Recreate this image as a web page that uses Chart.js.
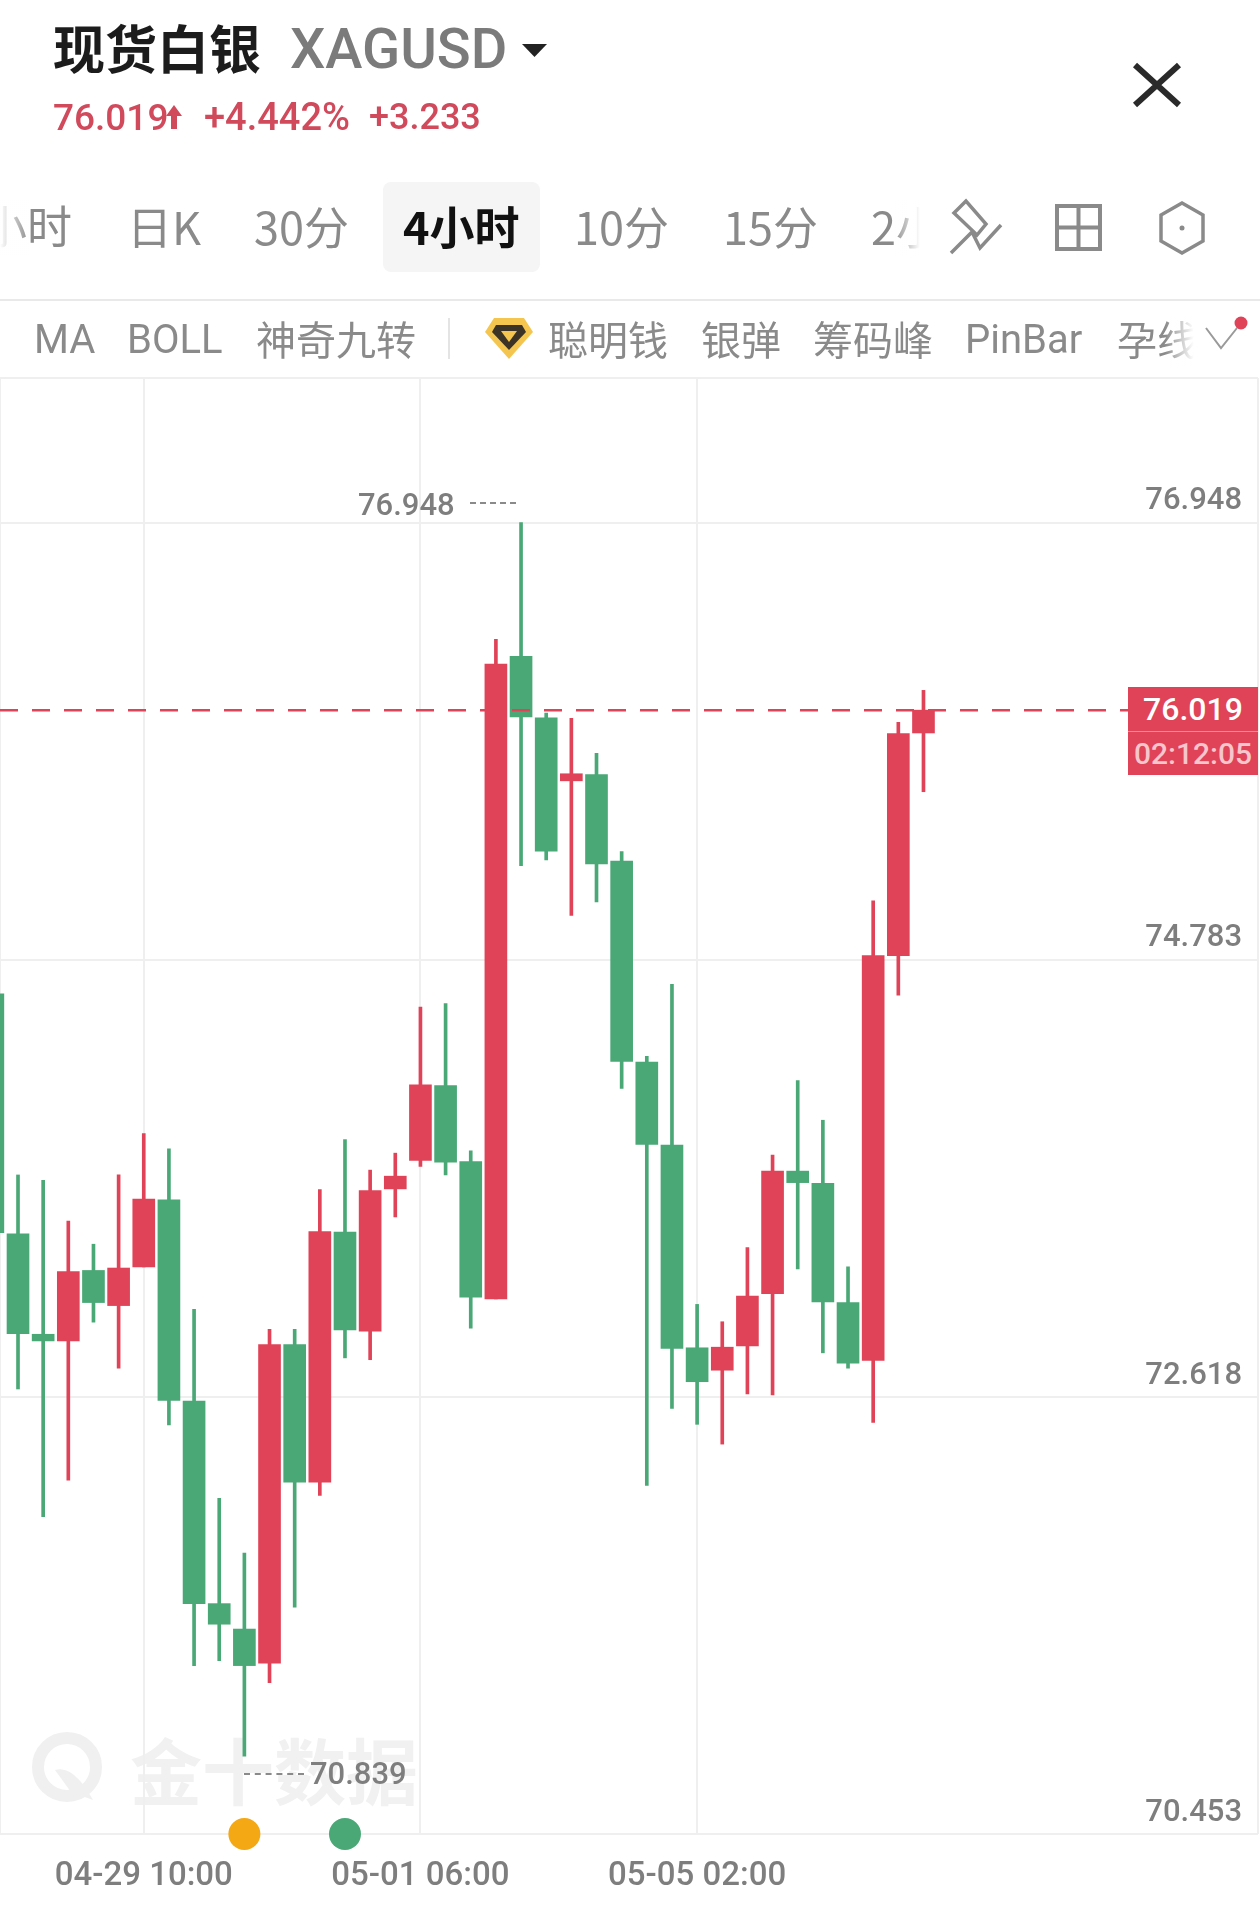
<!DOCTYPE html>
<html lang="zh"><head><meta charset="utf-8">
<script src="https://cdn.jsdelivr.net/npm/chart.js@4"></script>
<style>
html,body{margin:0;padding:0;background:#fff;width:1260px;height:1905px;overflow:hidden}
#wrap{position:relative;width:1260px;height:1905px;overflow:hidden;font-family:Roboto,"Noto Sans CJK SC",sans-serif}
canvas{position:absolute;left:0;top:0}
.t{position:absolute;white-space:nowrap;line-height:1;transform:translateY(-50%)}
.cn{font-family:"Noto Sans CJK SC",sans-serif}
.tab{font-size:45px;color:#8a8a8a;font-weight:400;top:225px}
.ind{font-size:40px;color:#8a8a8a;font-weight:400;top:338px}
.lat{top:340px}
.red{color:#d04a5c;font-weight:500;font-size:38px;top:117px}
.gray{color:#7e7e7e;font-weight:500;font-size:31px}
svg{position:absolute;overflow:visible}
</style></head><body><div id="wrap">
<div class="t cn" style="top:1768px;font-size:72px;font-weight:700;color:#f1f1f1;left:130px">金十数据</div>
<svg style="left:30px;top:1730px" width="76" height="76"><circle cx="37" cy="37" r="29" fill="none" stroke="#f0f0f0" stroke-width="12"/><path d="M25 40q18-6 38 30l-22-8z" fill="#f0f0f0"/></svg>
<canvas id="c" width="1260" height="1905" style="width:1260px;height:1905px"></canvas>

<div class="t cn" style="left:53px;top:47px;font-size:52px;font-weight:700;color:#1c1c1c">现货白银</div>
<div class="t" style="left:290px;top:49px;font-size:56px;font-weight:500;color:#7b7b7b">XAGUSD</div>
<svg style="left:522px;top:44px" width="26" height="14"><path d="M0 0H25L12.500 13z" fill="#222"/></svg>
<div class="t red" style="left:53px;font-size:37px">76.019</div>
<svg style="left:166px;top:105px" width="18" height="24"><path d="M8 0L16 11H11V24H5V11H0z" fill="#d04a5c"/></svg>
<div class="t red" style="left:204px">+4.442%</div>
<div class="t red" style="left:369px;font-size:36px">+3.233</div>
<svg style="left:1133px;top:63px" width="44" height="44"><path d="M2 2L46 42M46 2L2 42" stroke="#2a2a2a" stroke-width="6" fill="none"/></svg>

<div style="position:absolute;left:383px;top:182px;width:157px;height:90px;background:#f5f5f5;border-radius:8px"></div>
<div class="t tab cn" style="left:-20px;width:92px;overflow:hidden;height:46px;direction:rtl">小时</div>
<div style="position:absolute;left:0;top:200px;width:30px;height:55px;background:linear-gradient(90deg,#fff,rgba(255,255,255,0))"></div>
<div class="t tab cn" style="left:127px">日K</div>
<div class="t tab cn" style="left:254px">30分</div>
<div class="t tab cn" style="left:403px;color:#111;font-weight:700">4小时</div>
<div class="t tab cn" style="left:574px">10分</div>
<div class="t tab cn" style="left:723px">15分</div>
<div class="t tab cn" style="left:871px">2小</div>
<div style="position:absolute;left:893px;top:198px;width:60px;height:60px;background:linear-gradient(90deg,rgba(255,255,255,0),#fff 45%)"></div>
<svg style="left:947px;top:198px" width="58" height="58" fill="none" stroke="#8a8a8a" stroke-width="3.500"><path d="M19 3L7 15L30 37L39 26zM4 55L25 34L33 50L54 27"/></svg>
<svg style="left:1055px;top:204px" width="47" height="47" fill="none" stroke="#8a8a8a" stroke-width="4"><path d="M2 2H45V45H2zM23.500 2V45M2 23.500H45"/></svg>
<svg style="left:1158px;top:201px" width="48" height="54" fill="none" stroke="#8a8a8a" stroke-width="3.500"><path d="M24 2L45 14V40L24 52L3 40V14z"/><circle cx="24" cy="27" r="2.500" fill="#8a8a8a" stroke="none"/></svg>

<div style="position:absolute;left:0;top:299px;width:1260px;height:2px;background:#e9e9e9"></div>
<div class="t ind lat" style="left:34px">MA</div>
<div class="t ind lat" style="left:127px">BOLL</div>
<div class="t ind cn" style="left:256px">神奇九转</div>
<div style="position:absolute;left:448px;top:318px;width:2px;height:41px;background:#e4e4e4"></div>
<svg style="left:484px;top:316px" width="50" height="44"><path d="M10 2H40L49 16L25 43L1 16z" fill="#f4c64f"/><path d="M12 9H38L42 16L25 34L8 16z" fill="#3a3326"/><path d="M17 15H33L25 26z" fill="#f4c64f"/></svg>
<div class="t ind cn" style="left:548px">聪明钱</div>
<div class="t ind cn" style="left:701px">银弹</div>
<div class="t ind cn" style="left:813px">筹码峰</div>
<div class="t ind lat" style="left:965px">PinBar</div>
<div class="t ind cn" style="left:1117px">孕线</div>
<div style="position:absolute;left:1165px;top:316px;width:36px;height:50px;background:linear-gradient(90deg,rgba(255,255,255,0),#fff 80%)"></div>
<svg style="left:1205px;top:325px" width="34" height="26"><path d="M1 3L16 23L32 3" stroke="#9a9a9a" stroke-width="2" fill="none"/></svg>
<svg style="left:1234px;top:316px" width="14" height="14"><circle cx="7" cy="7" r="6.500" fill="#e04358"/></svg>

<div class="t gray" style="left:358px;top:504px">76.948</div>
<div style="position:absolute;left:470px;top:502px;width:46px;height:0;border-top:2px dashed #8a8a8a"></div>
<div style="position:absolute;left:244px;top:1773px;width:60px;height:0;border-top:2px dashed #8a8a8a"></div>
<div class="t gray" style="left:310px;top:1773px">70.839</div>

<div style="position:absolute;left:1128px;top:687px;width:130px;height:44px;background:#e04358"></div>
<div style="position:absolute;left:1128px;top:731px;width:130px;height:44px;background:#e04358;border-top:1px solid #f08a97;box-sizing:border-box"></div>
<div class="t" style="left:1128px;width:130px;text-align:center;top:709px;font-size:32px;font-weight:500;color:#fff">76.019</div>
<div class="t" style="left:1128px;width:130px;text-align:center;top:754px;font-size:30px;font-weight:500;color:#f7c6cc">02:12:05</div>
</div>
<script>
const opens  = [74.614,73.425,72.928,72.895,73.244,73.070,73.262,73.594,72.597,71.594,71.468,71.299,72.877,72.196,73.434,72.943,73.648,73.789,74.160,73.783,73.103,76.285,75.981,75.669,75.700,75.271,74.276,73.865,72.861,72.750,72.870,73.129,73.736,73.676,73.085,72.798,74.803,75.906];
const closes = [73.431,72.931,72.895,73.238,73.085,73.256,73.597,72.600,71.594,71.492,71.287,72.877,72.196,73.437,72.949,73.639,73.711,74.163,73.780,73.112,76.247,75.985,75.321,75.704,75.258,74.279,73.868,72.858,72.693,72.864,73.117,73.736,73.679,73.088,72.785,74.803,75.903,76.019];
const highs  = [74.614,73.717,73.690,73.488,73.374,73.717,73.922,73.846,73.052,72.115,71.844,72.952,72.952,73.645,73.892,73.741,73.825,74.548,74.566,73.837,76.370,76.948,76.004,75.978,75.805,75.318,74.304,74.661,73.076,72.990,73.357,73.815,74.184,73.988,73.262,75.075,75.959,76.117];
const lows   = [73.431,72.657,72.025,72.206,72.988,72.760,73.262,72.479,71.287,71.311,70.839,71.203,71.576,72.130,72.811,72.802,73.509,73.759,73.717,72.958,73.103,75.249,75.277,75.002,75.069,74.146,72.179,72.561,72.482,72.384,72.633,72.627,73.252,72.836,72.760,72.491,74.608,75.615];
const yTickValues = [76.948,74.783,72.618,70.453];
const xTickPositions = [6,17,28];
const xTickLabels = ["04-29 10:00","05-01 06:00","05-05 02:00"];
const markerPositions = [10,14];
const markerColors = ["#f3a814","#4aa876"];
const lastPrice = 76.019;
const xMin = 0.284, xMax = 50.3, yMin = 70.453, yMax = 77.664;
const UP = "#e04358", DOWN = "#4aa876";
const colors = closes.map((c,i)=> c>=opens[i] ? UP : DOWN);
const idx = opens.map((_,i)=>i);

new Chart(document.getElementById('c'),{
  data:{datasets:[
    {type:'line',order:0,data:[{x:xMin,y:lastPrice},{x:xMax,y:lastPrice}],borderColor:UP,borderWidth:2.500,borderDash:[18,14],pointRadius:0,fill:false},
    {type:'line',order:0,clip:false,showLine:false,data:markerPositions.map(x=>({x,y:yMin})),pointRadius:16,pointBackgroundColor:markerColors,pointBorderWidth:0},
    {type:'bar',order:1,grouped:false,barThickness:22,data:idx.map(i=>({x:i,y:[opens[i],closes[i]]})),backgroundColor:colors,borderWidth:0},
    {type:'bar',order:2,grouped:false,barThickness:3,data:idx.map(i=>({x:i,y:[lows[i],highs[i]]})),backgroundColor:colors,borderWidth:0}
  ]},
  options:{
    responsive:false,animation:false,devicePixelRatio:1,
    layout:{autoPadding:false,padding:{top:378,left:0,right:2,bottom:0}},
    plugins:{legend:{display:false},tooltip:{enabled:false}},
    scales:{
      x:{type:'linear',min:xMin,max:xMax,offset:false,
        afterBuildTicks:a=>{a.ticks=[xMin,...xTickPositions,xMax].map(value=>({value}));},
        afterFit:a=>{a.height=71;a.paddingLeft=0;a.paddingRight=0;},
        grid:{color:'#efefef',lineWidth:2,drawTicks:false,offset:false},border:{display:false},
        ticks:{autoSkip:false,maxRotation:0,padding:23,color:'#7e7e7e',font:{family:'Roboto',size:33,weight:'500'},
          callback:v=>{const k=xTickPositions.indexOf(v);return k<0?'':xTickLabels[k];}}},
      y:{type:'linear',position:'right',min:yMin,max:yMax,
        afterBuildTicks:a=>{a.ticks=[...yTickValues,yMax].map(value=>({value}));},
        afterFit:a=>{a.width=0;},
        grid:{color:'#efefef',lineWidth:2,drawTicks:false},border:{display:false},
        ticks:{mirror:true,padding:-16,labelOffset:-21,color:'#7e7e7e',font:{family:'Roboto',size:31,weight:'500'},
          callback:v=>yTickValues.includes(v)?v.toFixed(3):''}}
    }
  }
});
</script></body></html>
